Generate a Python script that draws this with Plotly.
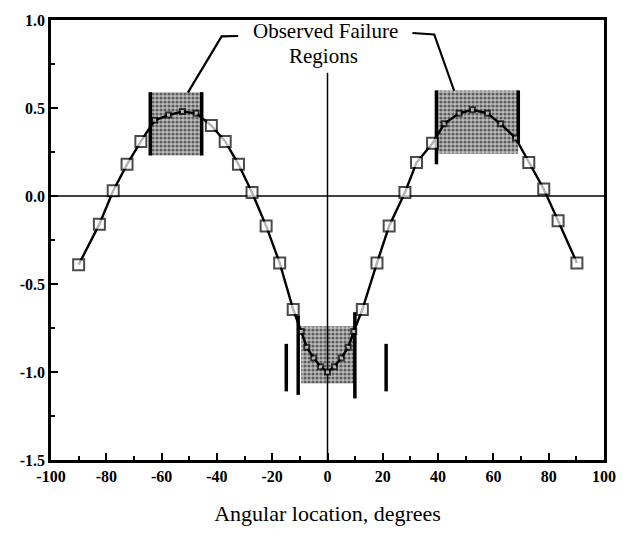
import plotly.graph_objects as go

# Pressure distribution around the cylinder
angle = [-90, -82.5, -77.5, -72.5, -67.5, -62.5, -57.5, -52.5, -47.5, -42, -37,
         -32.2, -27.3, -22.2, -17.3, -12.4, -9.5, -7.5, -5, -2.5, 0, 2.5, 5, 7.5,
         9.5, 12.6, 17.9, 22.3, 28, 32.2, 38, 42.2, 47.6, 52.4, 57.8, 62.6, 68,
         72.8, 78.2, 83.4, 90.2]
cp = [-0.39, -0.16, 0.03, 0.18, 0.31, 0.43, 0.46, 0.48, 0.47, 0.40, 0.31,
      0.18, 0.02, -0.17, -0.38, -0.645, -0.77, -0.86, -0.92, -0.97, -1.0, -0.97,
      -0.92, -0.86, -0.77, -0.645, -0.38, -0.17, 0.02, 0.19, 0.30, 0.41, 0.47,
      0.49, 0.47, 0.41, 0.33, 0.19, 0.04, -0.14, -0.38]

# Observed failure regions (angle span and value span)
region_x0 = [-64.1, 39.4, -9.5]
region_x1 = [-45.5, 69.0, 10.0]
region_y0 = [0.23, 0.24, -1.065]
region_y1 = [0.59, 0.60, -0.74]

# Boundary markers of the failure regions
bar_x = [-64.1, -45.5, 39.4, 69.0, -14.9, -10.6, 9.9, 21.2]
bar_lo = [0.23, 0.23, 0.18, 0.30, -1.11, -1.13, -1.15, -1.11]
bar_hi = [0.59, 0.59, 0.60, 0.60, -0.84, -0.68, -0.66, -0.84]

x_ticks = [-100, -80, -60, -40, -20, 0, 20, 40, 60, 80, 100]
x_labels = ["-100", "-80", "-60", "-40", "-20", "0", "20", "40", "60", "80", "100"]
y_ticks = [1.0, 0.5, 0.0, -0.5, -1.0, -1.5]
y_labels = ["1.0", "0.5", "0.0", "-0.5", "-1.0", "-1.5"]

SERIF = "Liberation Serif"

fig = go.Figure()

# shaded failure regions
for x0, x1, y0, y1 in zip(region_x0, region_x1, region_y0, region_y1):
    fig.add_trace(go.Scatter(
        x=[x0, x1, x1, x0, x0], y=[y0, y0, y1, y1, y0],
        mode="none", fill="toself", fillcolor="rgba(0,0,0,0)",
        fillpattern=dict(shape=".", fgcolor="black", bgcolor="#bdbdbd",
                         size=4, solidity=0.5),
        hoverinfo="skip", showlegend=False))

# reference lines at zero
fig.add_trace(go.Scatter(x=[-100, 100], y=[0, 0], mode="lines",
                         line=dict(color="black", width=1.5),
                         hoverinfo="skip", showlegend=False))
fig.add_trace(go.Scatter(x=[0, 0], y=[-1.5, 0.70], mode="lines",
                         line=dict(color="black", width=1.5),
                         hoverinfo="skip", showlegend=False))

# region boundary bars
bx, by = [], []
for x, lo, hi in zip(bar_x, bar_lo, bar_hi):
    bx += [x, x, None]
    by += [lo, hi, None]
fig.add_trace(go.Scatter(x=bx, y=by, mode="lines",
                         line=dict(color="black", width=3.5),
                         hoverinfo="skip", showlegend=False))

# markers are smaller where they sit inside a shaded region
def in_region(a, v):
    return any(x0 <= a <= x1 and y0 <= v <= y1
               for x0, x1, y0, y1 in zip(region_x0, region_x1, region_y0, region_y1))

sizes = [5 if in_region(a, v) else 11 for a, v in zip(angle, cp)]

fig.add_trace(go.Scatter(
    x=angle, y=cp, mode="lines+markers",
    line=dict(color="black", width=2.4),
    marker=dict(symbol="square", size=sizes, color="white",
                line=dict(color="black", width=2)),
    showlegend=False))

# callout leader lines
fig.add_trace(go.Scatter(x=[-50.5, -38.3, -32.3], y=[0.587, 0.907, 0.909],
                         mode="lines", line=dict(color="black", width=2.2),
                         hoverinfo="skip", showlegend=False))
fig.add_trace(go.Scatter(x=[30.7, 38.6, 45.8], y=[0.926, 0.918, 0.598],
                         mode="lines", line=dict(color="black", width=2.2),
                         hoverinfo="skip", showlegend=False))

fig.add_annotation(x=-0.9, y=0.938, text="Observed Failure", showarrow=False,
                   xanchor="center", yanchor="middle",
                   font=dict(family=SERIF, size=21, color="black"))
fig.add_annotation(x=-1.5, y=0.795, text="Regions", showarrow=False,
                   xanchor="center", yanchor="middle",
                   font=dict(family=SERIF, size=21, color="black"))

axis_common = dict(
    showgrid=False, zeroline=False, showline=True, linecolor="black",
    linewidth=2.5, mirror=True, ticks="inside", tickcolor="black",
    tickwidth=2, ticklen=7,
    tickfont=dict(family=SERIF, size=16, color="black", weight="bold"),
)

fig.update_xaxes(range=[-100, 100], tickvals=x_ticks, ticktext=x_labels,
                 minor=dict(ticks="inside", ticklen=4, tickwidth=2,
                            tickcolor="black", dtick=10, tick0=0),
                 title=dict(text="Angular location, degrees", standoff=22,
                            font=dict(family=SERIF, size=22, color="black")),
                 **axis_common)
fig.update_yaxes(range=[-1.5, 1.0], tickvals=y_ticks, ticktext=y_labels,
                 minor=dict(ticks="inside", ticklen=4, tickwidth=2,
                            tickcolor="black", dtick=0.25, tick0=0),
                 **axis_common)

fig.update_layout(
    width=628, height=538,
    margin=dict(l=51, r=22, t=13, b=78),
    paper_bgcolor="white", plot_bgcolor="white",
    font=dict(family=SERIF, color="black"),
)

fig.write_html("out.html")
